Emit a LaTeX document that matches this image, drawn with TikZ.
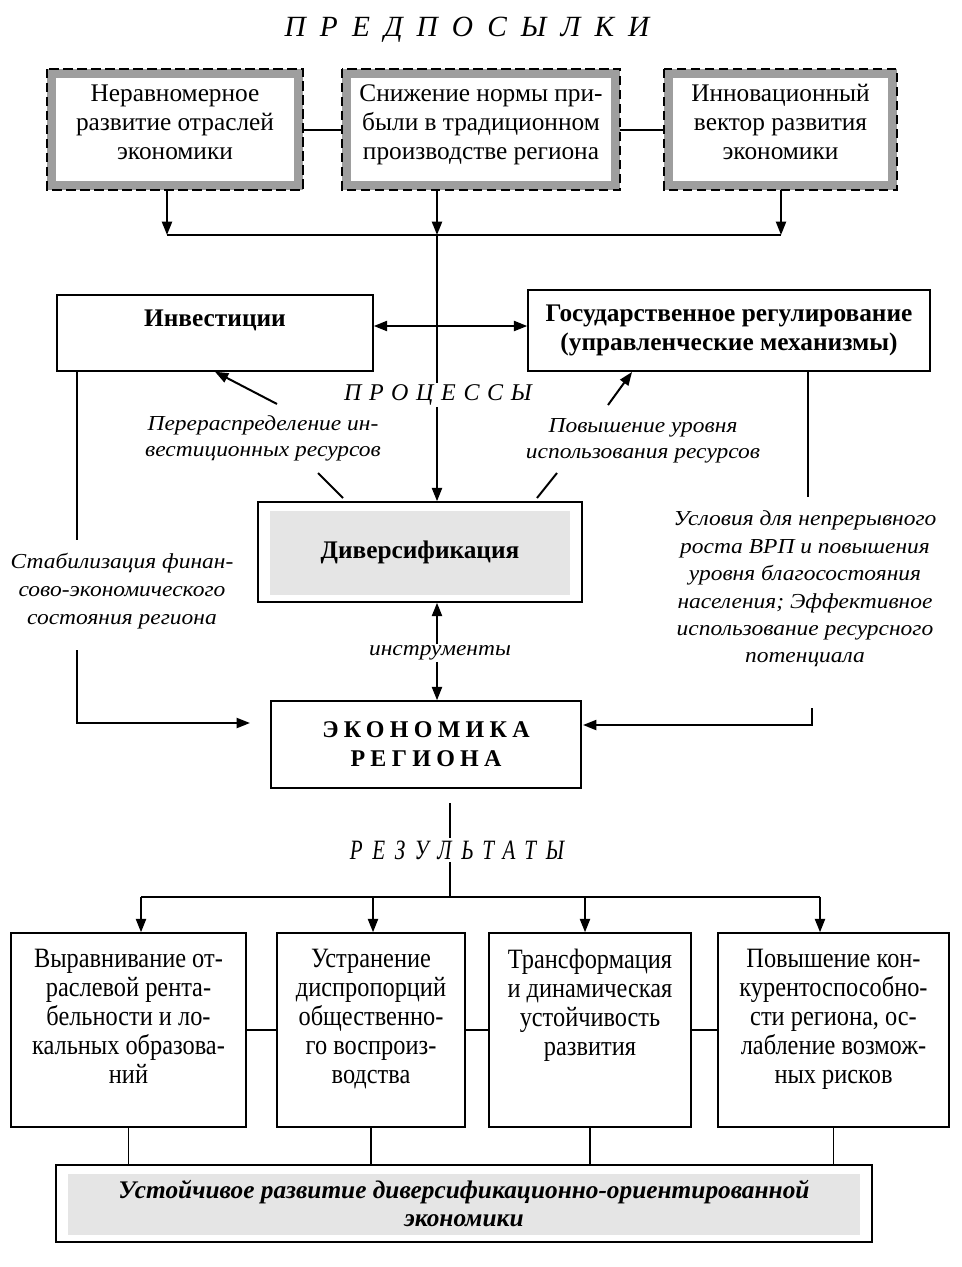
\documentclass[tikz,border=0pt]{standalone}
\usepackage{fontspec}
\setmainfont{Liberation Serif}
\newfontfamily\wideit[FakeStretch=1.1]{Liberation Serif}
\newfontfamily\narrowf[FakeStretch=0.87]{Liberation Serif}
\newfontfamily\titlef[LetterSpace=48]{Liberation Serif}
\newfontfamily\procf[LetterSpace=32]{Liberation Serif}
\newfontfamily\spacedbf[LetterSpace=22]{Liberation Serif}
\newfontfamily\resf[FakeStretch=0.75,LetterSpace=35]{Liberation Serif}
\usetikzlibrary{arrows.meta,calc}
\begin{document}
\begin{tikzpicture}[x=0.75pt,y=-0.75pt,
  box/.style={draw, line width=1.1pt, inner sep=0pt, align=center, fill=white,
    font=\fontsize{19}{21.75}\selectfont},
  prebox/.style={draw=black!38, line width=6.75pt, inner sep=0pt, align=center, fill=white,
    font=\fontsize{19}{21.75}\selectfont},
  lab/.style={font=\wideit\itshape\fontsize{16}{19.5}\selectfont, align=center, inner sep=1pt},
  conn/.style={line width=1.5pt},
  thinline/.style={line width=0.9pt},
  arr/.style={line width=1.5pt, -{Triangle[length=10pt,width=7.5pt]}},
  innergray/.style={path picture={\fill[black!10] ([shift={(9pt,-7pt)}]path picture bounding box.north west) rectangle ([shift={(-9pt,5pt)}]path picture bounding box.south east);}}
]
\useasboundingbox (0,0) rectangle (962,1267);

% title
\node[font=\titlef\itshape\fontsize{22}{26}\selectfont] (title) at (467,30) {ПРЕДПОСЫЛКИ};

% top boxes
\node[prebox, minimum width=185pt, minimum height=84pt] (p1) at (175,129.5)
  {Неравномерное\\развитие отраслей\\экономики\\[-10.9pt]\mbox{}};
\node[prebox, minimum width=202pt, minimum height=84pt] (p2) at (481,129.5)
  {Снижение нормы при-\\были в традиционном\\производстве региона\\[-10.9pt]\mbox{}};
\node[prebox, minimum width=168pt, minimum height=84pt] (p3) at (780.5,129.5)
  {Инновационный\\вектор развития\\экономики\\[-10.9pt]\mbox{}};
\foreach \n in {p1,p2,p3}
  \draw[line width=1.4pt, dash pattern=on 7pt off 3.5pt] (\n.north west) rectangle (\n.south east);

\draw[conn] (p1.east) -- (p2.west);
\draw[conn] (p2.east) -- (p3.west);

\coordinate (h1) at (167,235);
\coordinate (h2) at (437,235);
\coordinate (h3) at (781,235);
\draw[arr] (p1.south -| h1) -- (h1);
\draw[arr] (p2.south -| h2) -- (h2);
\draw[arr] (p3.south -| h3) -- (h3);
\draw[conn] (h1) -- (h3);

% process boxes
\node[box, font=\bfseries\fontsize{19}{21.75}\selectfont, minimum width=237pt, minimum height=57pt] (inv) at (215,333)
  {Инвестиции\\\mbox{}};
\node[box, font=\bfseries\fontsize{19}{21.75}\selectfont, minimum width=301.5pt, minimum height=60.75pt] (gos) at (729,330.5)
  {Государственное регулирование\\(управленческие механизмы)};

\node[font=\procf\itshape\fontsize{18}{21}\selectfont, inner sep=1pt] (proc) at (438,395) {ПРОЦЕССЫ};

\node[box, innergray, font=\bfseries\fontsize{19}{21.75}\selectfont, minimum width=243pt, minimum height=75pt] (div) at (420,552)
  {Диверсификация};

\coordinate (dbl) at (437,326);
\draw[line width=1.5pt, {Triangle[length=10pt,width=7.5pt]}-{Triangle[length=10pt,width=7.5pt]}] (dbl -| inv.east) -- (dbl -| gos.west);
\draw[conn] (h2) -- (proc.north -| h2);
\draw[arr] (proc.south -| h2) -- (h2 |- div.north);

% labels around diversification
\node[lab] (redis) at (263,438) {Перераспределение ин-\\вестиционных ресурсов};
\node[lab] (raise) at (643,441) {Повышение уровня\\использования ресурсов};
\coordinate (a1) at (277,404);
\draw[arr] (a1) -- (inv.south);
\coordinate (a2) at (608,405);
\coordinate (a2e) at (632,372);
\draw[arr] (a2) -- (a2e);
\coordinate (c1) at (318,473);
\coordinate (c2) at (343,498);
\draw[conn] (c1) -- (c2);
\coordinate (c3) at (557,473);
\coordinate (c4) at (537,498);
\draw[conn] (c3) -- (c4);

% economy
\node[box, font=\spacedbf\bfseries\fontsize{18}{21.75}\selectfont, minimum width=232.5pt, minimum height=65.25pt] (econ) at (426,744.5)
  {ЭКОНОМИКА\\РЕГИОНА};
\node[lab] (instr) at (440,653) {инструменты};
\draw[arr] (instr.north -| h2) -- (h2 |- div.south);
\draw[arr] (instr.south -| h2) -- (h2 |- econ.north);

% left branch
\node[lab, font=\wideit\itshape\fontsize{16}{21}\selectfont] (stab) at (122,591)
  {Стабилизация финан-\\сово-экономического\\состояния региона};
\coordinate (l1) at (77,540);
\coordinate (l2) at (77,650);
\coordinate (l3) at (250,723);
\draw[thinline] (l1 |- inv.south) -- (l1);
\draw[arr] (l2) |- (l3);

% right branch
\node[lab, font=\wideit\itshape\fontsize{16}{20.6}\selectfont] (cond) at (805,589)
  {Условия для непрерывного\\роста ВРП и повышения\\уровня благосостояния\\населения; Эффективное\\использование ресурсного\\потенциала};
\coordinate (r1) at (808,497);
\coordinate (r2) at (812,708);
\coordinate (r3) at (583,725);
\draw[thinline] (r1 |- gos.south) -- (r1);
\draw[arr] (r2) |- (r3);

% results
\node[font=\resf\itshape\fontsize{21}{24}\selectfont, inner sep=2pt] (res) at (457,850) {РЕЗУЛЬТАТЫ};
\coordinate (e1) at (450,803);
\coordinate (e2) at (450,897);
\draw[thinline] (e1) -- (res.north -| e1);
\draw[thinline] (res.south -| e2) -- (e2);

\node[box, font=\narrowf\fontsize{21}{21.75}\selectfont, minimum width=176.25pt, minimum height=145.5pt] (b1) at (128.5,1030)
  {\parbox[c][121pt][t]{172pt}{\centering Выравнивание от-\\раслевой рента-\\бельности и ло-\\кальных образова-\\ний}};
\node[box, font=\narrowf\fontsize{21}{21.75}\selectfont, minimum width=141pt, minimum height=145.5pt] (b2) at (371,1030)
  {\parbox[c][121pt][t]{138pt}{\centering Устранение\\диспропорций\\общественно-\\го воспроиз-\\водства}};
\node[box, font=\narrowf\fontsize{21}{21.75}\selectfont, minimum width=151.5pt, minimum height=145.5pt] (b3) at (590,1030)
  {\parbox[c][121pt][t]{148pt}{\centering Трансформация\\и динамическая\\устойчивость\\развития}};
\node[box, font=\narrowf\fontsize{21}{21.75}\selectfont, minimum width=173.25pt, minimum height=145.5pt] (b4) at (833.5,1030)
  {\parbox[c][121pt][t]{170pt}{\centering Повышение кон-\\курентоспособно-\\сти региона, ос-\\лабление возмож-\\ных рисков}};

\coordinate (t1) at (141,897);
\coordinate (t2) at (373,897);
\coordinate (t3) at (585,897);
\coordinate (t4) at (820,897);
\draw[conn] (t1) -- (t4);
\draw[arr] (t1) -- (t1 |- b1.north);
\draw[arr] (t2) -- (t2 |- b2.north);
\draw[arr] (t3) -- (t3 |- b3.north);
\draw[arr] (t4) -- (t4 |- b4.north);
\draw[conn] (b1.east) -- (b2.west);
\draw[conn] (b2.east) -- (b3.west);
\draw[conn] (b3.east) -- (b4.west);

\node[box, innergray, font=\bfseries\itshape\fontsize{19}{21}\selectfont, minimum width=612pt, minimum height=57.75pt] (fin) at (464,1203.5)
  {Устойчивое развитие диверсификационно-ориентированной\\экономики};
\draw[thinline] (b1.south) -- (b1.south |- fin.north);
\draw[thinline] (b2.south) -- (b2.south |- fin.north);
\draw[thinline] (b3.south) -- (b3.south |- fin.north);
\draw[thinline] (b4.south) -- (b4.south |- fin.north);
\end{tikzpicture}
\end{document}
